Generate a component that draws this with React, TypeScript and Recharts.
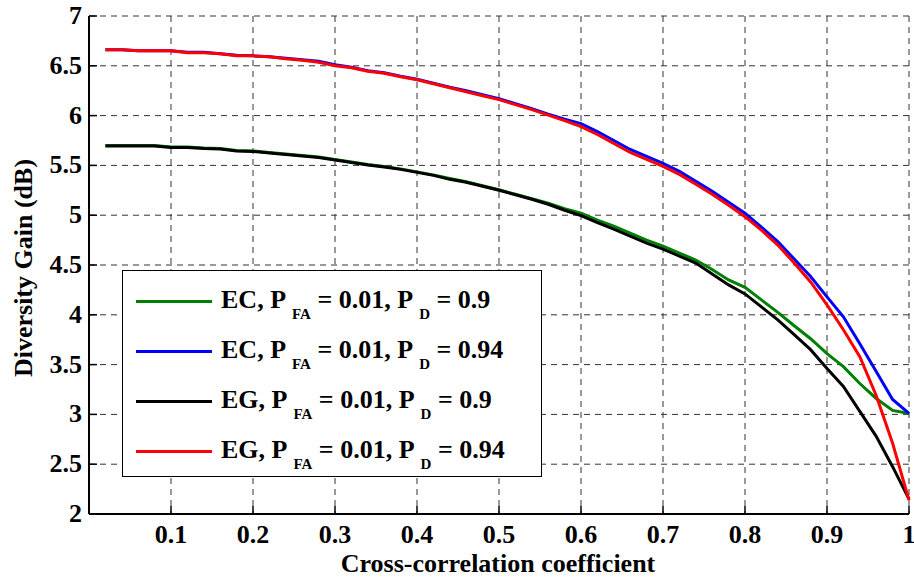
import React from 'react';
import { LineChart, Line, XAxis, YAxis, CartesianGrid, Legend } from 'recharts';

// cross-correlation coefficient
const RHO = [
  0.02, 0.04, 0.06, 0.08, 0.1, 0.12, 0.14, 0.16, 0.18, 0.2,
  0.22, 0.24, 0.26, 0.28, 0.3, 0.32, 0.34, 0.36, 0.38, 0.4,
  0.42, 0.44, 0.46, 0.48, 0.5, 0.52, 0.54, 0.56, 0.58, 0.6,
  0.62, 0.64, 0.66, 0.68, 0.7, 0.72, 0.74, 0.76, 0.78, 0.8,
  0.82, 0.84, 0.86, 0.88, 0.9, 0.92, 0.94, 0.96, 0.98, 1,
];

// diversity gain (dB)
const EC_090 = [
  5.7, 5.7, 5.7, 5.7, 5.685, 5.685, 5.675, 5.67, 5.65, 5.645,
  5.63, 5.615, 5.6, 5.585, 5.56, 5.535, 5.51, 5.49, 5.465, 5.435,
  5.405, 5.37, 5.335, 5.295, 5.255, 5.21, 5.165, 5.12, 5.065, 5.02,
  4.95, 4.89, 4.82, 4.75, 4.69, 4.62, 4.55, 4.455, 4.35, 4.275,
  4.15, 4.025, 3.89, 3.76, 3.61, 3.48, 3.31, 3.16, 3.04, 3.01,
];
const EC_094 = [
  6.66, 6.66, 6.65, 6.65, 6.65, 6.635, 6.635, 6.62, 6.605, 6.6,
  6.59, 6.575, 6.56, 6.545, 6.51, 6.485, 6.45, 6.43, 6.395, 6.365,
  6.325, 6.285, 6.25, 6.21, 6.17, 6.12, 6.07, 6.015, 5.965, 5.92,
  5.84, 5.75, 5.66, 5.59, 5.52, 5.44, 5.34, 5.24, 5.13, 5.02,
  4.88, 4.735, 4.56, 4.385, 4.18, 3.98, 3.71, 3.43, 3.15, 3.01,
];
const EG_090 = [
  5.695, 5.695, 5.695, 5.695, 5.68, 5.68, 5.67, 5.665, 5.645, 5.64,
  5.625, 5.61, 5.595, 5.58, 5.555, 5.53, 5.505, 5.485, 5.46, 5.43,
  5.4, 5.36, 5.33, 5.29, 5.25, 5.205, 5.16, 5.11, 5.05, 4.995,
  4.925, 4.86, 4.79, 4.72, 4.66, 4.59, 4.52, 4.41, 4.3, 4.21,
  4.08, 3.95, 3.8, 3.65, 3.46, 3.28, 3.03, 2.78, 2.475, 2.15,
];
const EG_094 = [
  6.66, 6.66, 6.65, 6.65, 6.65, 6.63, 6.63, 6.62, 6.6, 6.6,
  6.59, 6.57, 6.555, 6.535, 6.5, 6.48, 6.445, 6.425, 6.39, 6.36,
  6.32, 6.28, 6.24, 6.2, 6.16, 6.11, 6.06, 6.005, 5.95, 5.89,
  5.81, 5.72, 5.63, 5.56, 5.49, 5.41, 5.31, 5.21, 5.1, 4.985,
  4.85, 4.7, 4.52, 4.33, 4.1, 3.85, 3.58, 3.19, 2.71, 2.14,
];

const X_TICKS = [0.1, 0.2, 0.3, 0.4, 0.5, 0.6, 0.7, 0.8, 0.9, 1];
const Y_TICKS = [2, 2.5, 3, 3.5, 4, 4.5, 5, 5.5, 6, 6.5, 7];

const SERIES = [
  { key: 'ec090', method: 'EC', pfa: '0.01', pd: '0.9', color: '#008000' },
  { key: 'ec094', method: 'EC', pfa: '0.01', pd: '0.94', color: '#0000ff' },
  { key: 'eg090', method: 'EG', pfa: '0.01', pd: '0.9', color: '#000000' },
  { key: 'eg094', method: 'EG', pfa: '0.01', pd: '0.94', color: '#ff0000' },
];

const data = RHO.map((rho, i) => ({
  rho,
  ec090: EC_090[i],
  ec094: EC_094[i],
  eg090: EG_090[i],
  eg094: EG_094[i],
}));

const FONT = '"Liberation Serif", "Times New Roman", serif';
const TICK_LEN = 8;
const tickText = { fontFamily: FONT, fontWeight: 'bold' as const, fontSize: 26 };

const BottomTick = (props: any) => {
  const { x, y, payload } = props;
  return (
    <g>
      <line x1={x} y1={y} x2={x} y2={y - TICK_LEN} stroke="#000" strokeWidth={1.5} />
      <text x={x} y={y + 29} textAnchor="middle" fill="#000" style={tickText}>
        {payload.value}
      </text>
    </g>
  );
};

const TopTick = (props: any) => {
  const { x, y } = props;
  return <line x1={x} y1={y} x2={x} y2={y + TICK_LEN} stroke="#000" strokeWidth={1.5} />;
};

const LeftTick = (props: any) => {
  const { x, y, payload } = props;
  return (
    <g>
      <line x1={x} y1={y} x2={x + TICK_LEN} y2={y} stroke="#000" strokeWidth={1.5} />
      <text x={x - 7} y={y + 8} textAnchor="end" fill="#000" style={tickText}>
        {payload.value}
      </text>
    </g>
  );
};

const RightTick = (props: any) => {
  const { x, y } = props;
  return <line x1={x} y1={y} x2={x - TICK_LEN} y2={y} stroke="#000" strokeWidth={1.5} />;
};

const renderLegend = (props: any) => {
  const { payload } = props;
  return (
    <div
      style={{
        boxSizing: 'border-box',
        width: 420,
        height: 207,
        background: '#fff',
        border: '1.5px solid #000',
        paddingTop: 5,
        fontFamily: FONT,
        fontWeight: 'bold',
        color: '#000',
      }}
    >
      {payload.map((entry: any) => {
        const s = SERIES.find((d) => d.key === entry.dataKey)!;
        return (
          <div key={s.key} style={{ display: 'flex', alignItems: 'center', height: 50 }}>
            <div style={{ width: 76, height: 3, background: s.color, marginLeft: 13, marginRight: 9 }} />
            <div style={{ fontSize: 26, whiteSpace: 'nowrap', lineHeight: '30px' }}>
              {s.method}, P
              <span style={{ fontSize: 15, position: 'relative', top: 11, marginLeft: 6 }}>FA</span>
              {' '}= {s.pfa}, P
              <span style={{ fontSize: 15, position: 'relative', top: 11, marginLeft: 6 }}>D</span>
              {' '}= {s.pd}
            </div>
          </div>
        );
      })}
    </div>
  );
};

export default function App() {
  return (
    <div style={{ position: 'absolute', left: 0, top: 0, width: 914, height: 579, background: '#fff' }}>
      <LineChart width={914} height={579} data={data} margin={{ top: 16, right: 5, bottom: 0, left: 0 }}>
        <CartesianGrid stroke="#333" strokeDasharray="6 5" strokeWidth={1} />
        <XAxis
          dataKey="rho"
          type="number"
          domain={[0, 1]}
          ticks={X_TICKS}
          height={65}
          tickSize={0}
          tickMargin={0}
          tickLine={false}
          tick={<BottomTick />}
          axisLine={{ stroke: '#000', strokeWidth: 2 }}
          label={{
            content: () => (
              <text x={498} y={572} textAnchor="middle" fontFamily={FONT} fontWeight="bold" fontSize={26} fill="#000">
                Cross-correlation coefficient
              </text>
            ),
          }}
        />
        <XAxis
          xAxisId="top"
          orientation="top"
          dataKey="rho"
          type="number"
          domain={[0, 1]}
          ticks={X_TICKS}
          height={0}
          tickSize={0}
          tickMargin={0}
          tickLine={false}
          tick={<TopTick />}
          axisLine={{ stroke: '#000', strokeWidth: 2 }}
        />
        <YAxis
          type="number"
          domain={[2, 7]}
          ticks={Y_TICKS}
          width={89}
          tickSize={0}
          tickMargin={0}
          tickLine={false}
          tick={<LeftTick />}
          axisLine={{ stroke: '#000', strokeWidth: 2 }}
          label={{
            content: () => (
              <text
                x={32}
                y={268}
                transform="rotate(-90 32 268)"
                textAnchor="middle"
                fontFamily={FONT}
                fontWeight="bold"
                fontSize={26}
                fill="#000"
              >
                Diversity Gain (dB)
              </text>
            ),
          }}
        />
        <YAxis
          yAxisId="right"
          orientation="right"
          type="number"
          domain={[2, 7]}
          ticks={Y_TICKS}
          width={0}
          tickSize={0}
          tickMargin={0}
          tickLine={false}
          tick={<RightTick />}
          axisLine={{ stroke: '#000', strokeWidth: 2 }}
        />
        {SERIES.map((s) => (
          <Line
            key={s.key}
            type="linear"
            dataKey={s.key}
            stroke={s.color}
            strokeWidth={3}
            dot={false}
            activeDot={false}
            isAnimationActive={false}
          />
        ))}
        <Legend
          layout="horizontal"
          verticalAlign="middle"
          align="center"
          content={renderLegend}
          wrapperStyle={{ left: 122, top: 270, width: 420, height: 207 }}
        />
      </LineChart>
    </div>
  );
}
